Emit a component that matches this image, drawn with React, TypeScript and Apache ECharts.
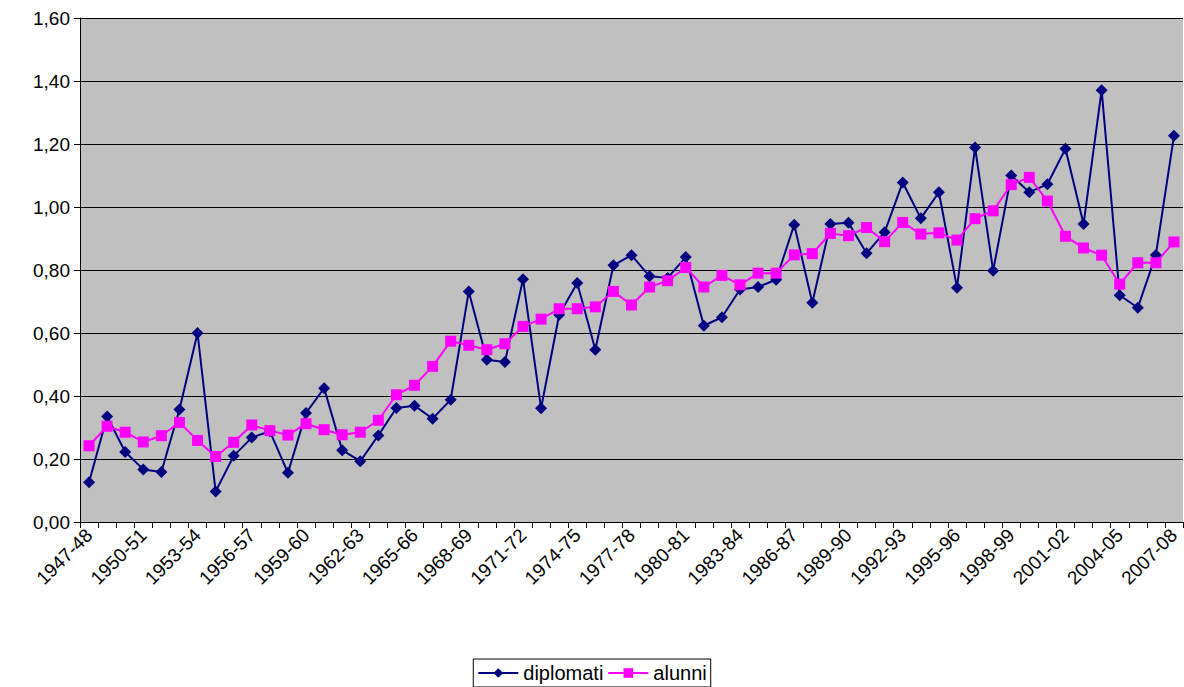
import React, { useEffect, useRef } from "react";
import * as echarts from "echarts";

const categories: string[] = [];
for (let y = 1947; y <= 2007; y++) categories.push(`${y}-${String((y + 1) % 100).padStart(2, "0")}`);

const diplomati = [0.126, 0.335, 0.222, 0.167, 0.159, 0.357, 0.60, 0.097, 0.21, 0.268, 0.288, 0.156, 0.346, 0.425, 0.228, 0.193, 0.275, 0.362, 0.369, 0.328, 0.388,
  0.732, 0.515, 0.508, 0.771, 0.361, 0.658, 0.759, 0.547, 0.815, 0.847, 0.78, 0.775, 0.841, 0.623, 0.65, 0.738, 0.746, 0.769,
  0.944, 0.696, 0.946, 0.95, 0.853, 0.92, 1.078, 0.964, 1.047, 0.744, 1.189, 0.798, 1.10, 1.047, 1.072, 1.185, 0.946, 1.371, 0.72, 0.68, 0.848, 1.226];
const alunni = [0.242, 0.304, 0.285, 0.254, 0.274, 0.316, 0.259, 0.208, 0.253, 0.308, 0.29, 0.276, 0.312, 0.293, 0.277, 0.285, 0.323, 0.404, 0.434, 0.494, 0.574,
  0.561, 0.547, 0.566, 0.621, 0.644, 0.677, 0.677, 0.683, 0.732, 0.689, 0.746, 0.766, 0.808, 0.746, 0.783, 0.753, 0.79, 0.79,
  0.848, 0.852, 0.916, 0.909, 0.935, 0.89, 0.951, 0.914, 0.918, 0.895, 0.963, 0.988, 1.071, 1.094, 1.019, 0.907, 0.87, 0.847, 0.755, 0.823, 0.823, 0.889];

export default function App() {
  const ref = useRef<HTMLDivElement>(null);
  useEffect(() => {
    const chart = echarts.init(ref.current!, null, { renderer: "svg" });
    const font = "Arial, 'Liberation Sans', sans-serif";
    chart.setOption({
      animation: false,
      backgroundColor: "#fff",
      textStyle: { fontFamily: font },
      grid: { left: 80, right: 1, top: 18, bottom: 165, show: true, backgroundColor: "#C0C0C0", borderWidth: 0 },
      legend: {
        bottom: 0, left: "center", itemGap: 4, itemWidth: 40, itemHeight: 12,
        borderColor: "#000", borderWidth: 1, padding: [4, 4], borderRadius: 0,
        textStyle: { fontSize: 20, color: "#000", fontFamily: font },
        data: ["diplomati", "alunni"],
      },
      xAxis: {
        type: "category", data: categories, boundaryGap: true,
        axisLine: { lineStyle: { color: "#000" } },
        axisTick: { show: true, interval: 0, length: 6, lineStyle: { color: "#000" } },
        axisLabel: { interval: 2, rotate: 45, fontSize: 19, color: "#000", margin: 10, fontFamily: font },
      },
      yAxis: {
        type: "value", min: 0, max: 1.6, interval: 0.2,
        axisLine: { show: true, lineStyle: { color: "#000" } },
        axisTick: { show: true, length: 6, lineStyle: { color: "#000" } },
        splitLine: { lineStyle: { color: "#000" } },
        axisLabel: { fontSize: 19, color: "#000", margin: 10, fontFamily: font, formatter: (v: number) => v.toFixed(2).replace(".", ",") },
      },
      series: [
        { name: "diplomati", type: "line", data: diplomati, color: "#000080", symbol: "diamond", symbolSize: 12, lineStyle: { width: 2, color: "#000080" }, itemStyle: { color: "#000080" } },
        { name: "alunni", type: "line", data: alunni, color: "#FF00FF", symbol: "rect", symbolSize: 11, lineStyle: { width: 2, color: "#FF00FF" }, itemStyle: { color: "#FF00FF" } },
      ],
    });
    return () => chart.dispose();
  }, []);
  return <div ref={ref} style={{ width: 1184, height: 687, position: "absolute", left: 0, top: 0 }} />;
}
